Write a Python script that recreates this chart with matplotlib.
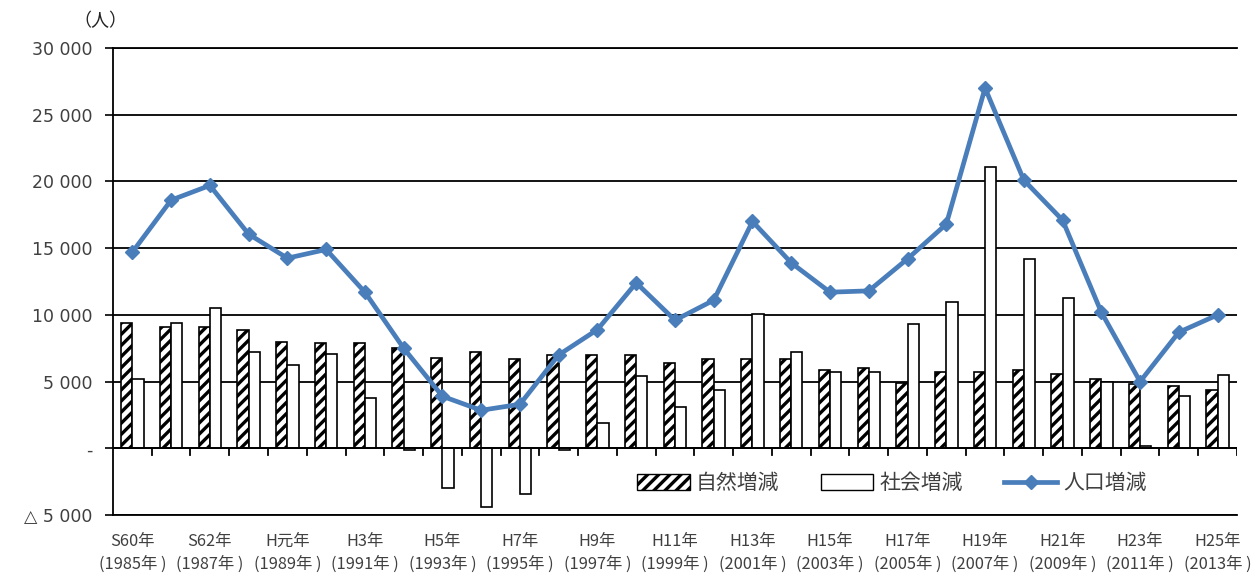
import matplotlib
matplotlib.use("Agg")
import matplotlib.pyplot as plt
import matplotlib.patches as mpatches
from matplotlib.lines import Line2D
import numpy as np

plt.rcParams['font.family'] = ['Noto Sans CJK JP', 'DejaVu Sans']
plt.rcParams['hatch.linewidth'] = 2.4

years = list(range(1985, 2014))
era_labels = ["S60年", "S62年", "H元年", "H3年", "H5年", "H7年", "H9年", "H11年",
              "H13年", "H15年", "H17年", "H19年", "H21年", "H23年", "H25年"]

natural = [9400, 9100, 9100, 8900, 8000, 7900, 7900, 7500, 6800, 7200,
           6700, 7000, 7000, 7000, 6400, 6700, 6700, 6700, 5900, 6000,
           4900, 5700, 5700, 5900, 5600, 5200, 4800, 4700, 4400]
social = [5200, 9400, 10500, 7250, 6250, 7100, 3800, -100, -3000, -4400,
          -3400, -100, 1900, 5400, 3100, 4400, 10100, 7200, 5700, 5700,
          9300, 11000, 21100, 14200, 11300, 5000, 200, 3900, 5500]
population = [14700, 18600, 19700, 16050, 14250, 14900, 11700, 7500, 3900, 2850,
              3300, 7000, 8900, 12400, 9600, 11100, 17000, 13900, 11700, 11800,
              14200, 16800, 27000, 20100, 17100, 10200, 5000, 8700, 10000]

line_color = "#4a7ebb"
text_color = "#404040"

fig = plt.figure(figsize=(12.58, 5.75), dpi=100)
ax = fig.add_axes([0.0898, 0.1043, 0.8935, 0.8122])

x = np.arange(len(years))
w = 0.29
ax.bar(x - w / 2, natural, w, facecolor="white", edgecolor="black", hatch="///",
       linewidth=1.2, zorder=2)
ax.bar(x + w / 2, social, w, facecolor="white", edgecolor="black",
       linewidth=1.2, zorder=2)
ax.plot(x, population, color=line_color, lw=3.4, marker="D", markersize=7.5,
        markerfacecolor=line_color, markeredgecolor=line_color, zorder=4)

ax.set_xlim(-0.5, len(years) - 0.5)
ax.set_ylim(-5000, 30000)

# zero axis line with category boundary ticks
ax.axhline(0, color="black", lw=1.3, zorder=3)
for b in np.arange(0.5, len(years), 1.0):
    ax.plot([b, b], [0, -520], color="black", lw=1.3, zorder=3)

yt = list(range(-5000, 30001, 5000))
def fmt(v):
    if v == 0:
        return "-"
    if v < 0:
        return "△ " + f"{-v:,}".replace(",", " ")
    return f"{v:,}".replace(",", " ")
ax.set_yticks(yt)
ax.set_yticklabels([fmt(v) for v in yt], fontsize=12.5, color=text_color,
                   family=["DejaVu Sans"])
ax.yaxis.grid(True, color="black", lw=1.3, zorder=0)
ax.set_axisbelow(True)
ax.tick_params(axis="y", direction="out", length=6, width=1.2, pad=9)

ax.set_xticks(x[::2])
ax.set_xticklabels([f"{e}\n({y}年 )" for e, y in zip(era_labels, years[::2])],
                   fontsize=11.8, color=text_color, linespacing=1.45)
ax.tick_params(axis="x", length=0, pad=13)

for s in ["left", "top", "bottom"]:
    ax.spines[s].set_color("black")
    ax.spines[s].set_linewidth(1.3)
ax.spines["right"].set_visible(False)

fig.text(0.0795, 0.963, "（人）", fontsize=13, color="#222222", ha="center", va="center")

handles = [
    mpatches.Patch(facecolor="white", edgecolor="black", hatch="///", label="自然増減"),
    mpatches.Patch(facecolor="white", edgecolor="black", label="社会増減"),
    Line2D([0], [0], color=line_color, lw=3.4, marker="D", markersize=7.5, label="人口増減"),
]
ax.legend(handles=handles, loc="center", bbox_to_anchor=(0.693, 0.068), ncol=3,
          frameon=False, fontsize=15, handlelength=2.5, handleheight=0.85,
          columnspacing=2.0, handletextpad=0.3, labelcolor=text_color)

fig.savefig("out.png", dpi=100)
